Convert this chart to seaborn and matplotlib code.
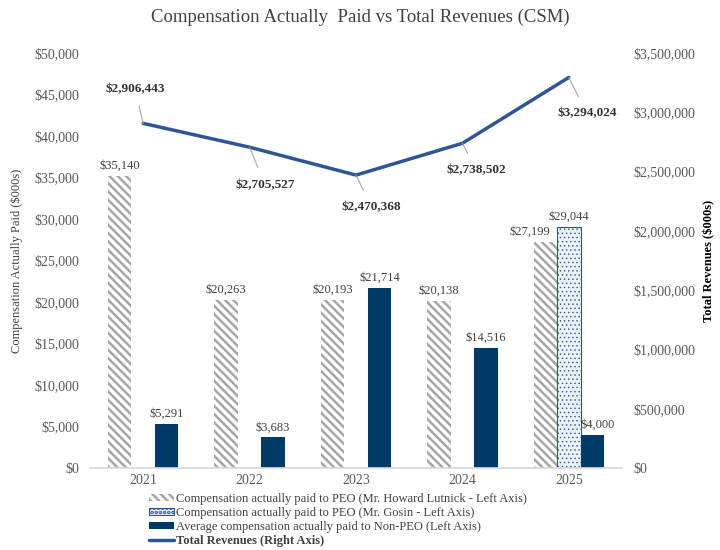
import numpy as np
import pandas as pd
import matplotlib
matplotlib.use("Agg")
import matplotlib.pyplot as plt
import matplotlib.patches as mpatches
import matplotlib.lines as mlines
from matplotlib.ticker import FuncFormatter, MultipleLocator
import seaborn as sns

years = ["2021", "2022", "2023", "2024", "2025"]
peo_lutnick = [35140, 20263, 20193, 20138, 27199]
peo_gosin = [np.nan, np.nan, np.nan, np.nan, 29044]
non_peo = [5291, 3683, 21714, 14516, 4000]
revenues = [2906443, 2705527, 2470368, 2738502, 3294024]

series_names = [
    "Compensation actually paid to PEO (Mr. Howard Lutnick - Left Axis)",
    "Compensation actually paid to PEO (Mr. Gosin - Left Axis)",
    "Average compensation actually paid to Non-PEO (Left Axis)",
]
line_name = "Total Revenues (Right Axis)"

sns.set_theme(style="white")
plt.rcParams["font.family"] = ["Liberation Serif", "DejaVu Serif"]
plt.rcParams["hatch.linewidth"] = 1.8

df = pd.DataFrame({
    "year": years * 3,
    "value": peo_lutnick + peo_gosin + non_peo,
    "series": [series_names[0]] * 5 + [series_names[1]] * 5 + [series_names[2]] * 5,
})

fig = plt.figure(figsize=(7.2, 5.5), dpi=100)
ax = fig.add_axes([90 / 720, 1 - 468 / 550, 532 / 720, 415 / 550])

sns.barplot(data=df, x="year", y="value", hue="series", hue_order=series_names,
            order=years, width=0.66, ax=ax, legend=False, errorbar=None)

hatch_col = "#A6A6A6"
dot_col = "#2F5597"
dot_face = "#EAF1F9"
navy = "#003A66"
stripe = "\\\\\\\\"
dots = "...."
styles = [
    dict(facecolor="white", edgecolor=hatch_col, hatch=stripe, linewidth=0),
    dict(facecolor=dot_face, edgecolor=dot_col, hatch=dots, linewidth=0.8),
    dict(facecolor=navy, edgecolor=navy, hatch=None, linewidth=0),
]
label_shift = {(0, 4): (-11, 3), (2, 4): (4, 3)}
for ci, (cont, st) in enumerate(zip(ax.containers, styles)):
    for p in cont.patches:
        p.set_facecolor(st["facecolor"])
        p.set_edgecolor(st["edgecolor"])
        p.set_linewidth(st["linewidth"])
        if st["hatch"]:
            p.set_hatch(st["hatch"])
            if ci == 1:
                try:
                    p.set_hatch_linewidth(0.5)
                except Exception:
                    pass
    vals = list(cont.datavalues)
    anns = ax.bar_label(cont, labels=[("" if np.isnan(v) else f"${v:,.0f}") for v in vals],
                        padding=3, fontsize=9, color="#404040")
    if len(anns) == len(years):
        for yi, a in enumerate(anns):
            if (ci, yi) in label_shift:
                a.xyann = label_shift[(ci, yi)]

ax.set_ylim(0, 50000)
ax.set_xlim(-0.5, 4.5)
ax.yaxis.set_major_locator(MultipleLocator(5000))
ax.yaxis.set_major_formatter(FuncFormatter(lambda v, p: f"${v:,.0f}"))
ax.tick_params(axis="both", length=0, labelsize=10, labelcolor="#595959")
ax.tick_params(axis="y", pad=8)
ax.tick_params(axis="x", pad=4)
ax.set_xlabel("")
ax.set_ylabel("Compensation Actually Paid ($000s)", fontsize=9, color="#404040", labelpad=8)
for s in ["top", "right", "left"]:
    ax.spines[s].set_visible(False)
ax.spines["bottom"].set_color("#D9D9D9")

ax2 = ax.twinx()
line_col = "#2F5597"
xpos = np.arange(len(years))
sns.lineplot(x=xpos, y=revenues, ax=ax2, color=line_col, linewidth=2.5)
ax2.set_ylim(0, 3500000)
ax2.set_xlim(-0.5, 4.5)
ax2.yaxis.set_major_locator(MultipleLocator(500000))
ax2.yaxis.set_major_formatter(FuncFormatter(lambda v, p: f"${v:,.0f}"))
ax2.tick_params(axis="y", length=0, labelsize=10, labelcolor="#595959", pad=8)
ax2.set_ylabel("Total Revenues ($000s)", fontsize=9, fontweight="bold", color="black", labelpad=6)
for s in ["top", "right", "left", "bottom"]:
    ax2.spines[s].set_visible(False)

offsets = [(-6, 25), (11, -27), (11, -23), (10, -19), (13, -26)]
for i, (v, off) in enumerate(zip(revenues, offsets)):
    ax2.annotate(f"${v:,.0f}", xy=(xpos[i], v), xytext=off, textcoords="offset points",
                 ha="center", va="center", fontsize=9.5, fontweight="bold", color="#333333",
                 arrowprops=dict(arrowstyle="-", color="#A6A6A6", lw=0.8, shrinkA=6, shrinkB=0))

fig.suptitle("Compensation Actually  Paid vs Total Revenues (CSM)", x=0.5, y=0.985,
             fontsize=13.5, color="#404040")

handles = [
    mpatches.Patch(facecolor="white", edgecolor=hatch_col, hatch=stripe, linewidth=0),
    mpatches.Patch(facecolor=dot_face, edgecolor=dot_col, hatch=dots, linewidth=0.8),
    mpatches.Patch(facecolor=navy, edgecolor=navy, linewidth=0),
    mlines.Line2D([], [], color=line_col, linewidth=2.5),
]
try:
    handles[1].set_hatch_linewidth(0.5)
except Exception:
    pass
leg = fig.legend(handles, series_names + [line_name], loc="upper left",
                 bbox_to_anchor=(0.198, 0.115), frameon=False, fontsize=9,
                 handlelength=2.0, handleheight=0.55, handletextpad=0.2,
                 labelspacing=0.15, borderpad=0)
for t in leg.get_texts():
    t.set_color("#404040")
leg.get_texts()[-1].set_fontweight("bold")

fig.savefig("out.png", dpi=100)
